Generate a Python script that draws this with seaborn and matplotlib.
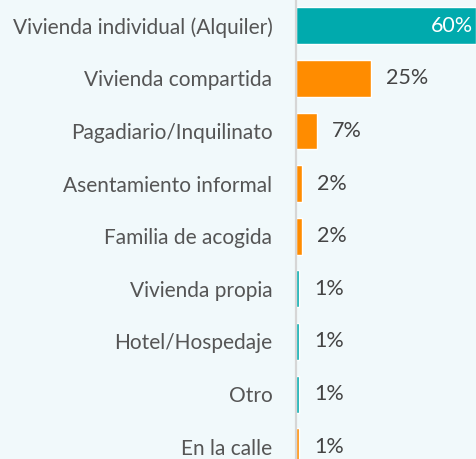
import matplotlib
matplotlib.use("Agg")
import matplotlib.pyplot as plt
import seaborn as sns
import pandas as pd

categories = ["Vivienda individual (Alquiler)", "Vivienda compartida", "Pagadiario/Inquilinato",
              "Asentamiento informal", "Familia de acogida", "Vivienda propia",
              "Hotel/Hospedaje", "Otro", "En la calle"]
values = [60, 25, 7, 2, 2, 1, 1, 1, 1]
labels = ["60%", "25%", "7%", "2%", "2%", "1%", "1%", "1%", "1%"]
TEAL = "#00aaad"
ORANGE = "#ff8c00"
colors = [TEAL, ORANGE, ORANGE, ORANGE, ORANGE, TEAL, TEAL, TEAL, ORANGE]

BG = "#f1f9fb"
sns.set_theme(style="white")
plt.rcParams['font.family'] = ['Lato', 'DejaVu Sans']

df = pd.DataFrame({"cat": categories, "val": values})
fig = plt.figure(figsize=(4.77, 4.59), dpi=100, facecolor=BG)
ax = fig.add_axes([296/477, 0, 1 - 296/477, 1])
ax.set_facecolor(BG)
sns.barplot(data=df, y="cat", x="val", hue="cat", palette=colors, legend=False,
            width=0.70, ax=ax, orient="h", saturation=1)
ax.set_xlim(0, 60.3)
ax.set_ylim(8.234, -0.492)
ax.set_xlabel("")
ax.set_ylabel("")
ax.set_xticks([])
for s in ["top", "right", "bottom"]:
    ax.spines[s].set_visible(False)
ax.spines["left"].set_color("#d6d6d6")
ax.spines["left"].set_linewidth(1.6)
ax.tick_params(axis="y", length=0, pad=17, labelsize=15, labelcolor="#555555")

for i, (v, lab) in enumerate(zip(values, labels)):
    if i == 0:
        ax.annotate(lab, (v, i), xytext=(-2, 0), textcoords="offset points",
                    ha="right", va="center", color="white", fontsize=15.5)
    else:
        ax.annotate(lab, (v, i), xytext=(11, 0), textcoords="offset points",
                    ha="left", va="center", color="#444444", fontsize=15.5)

fig.savefig("out.png", dpi=100, facecolor=BG)
